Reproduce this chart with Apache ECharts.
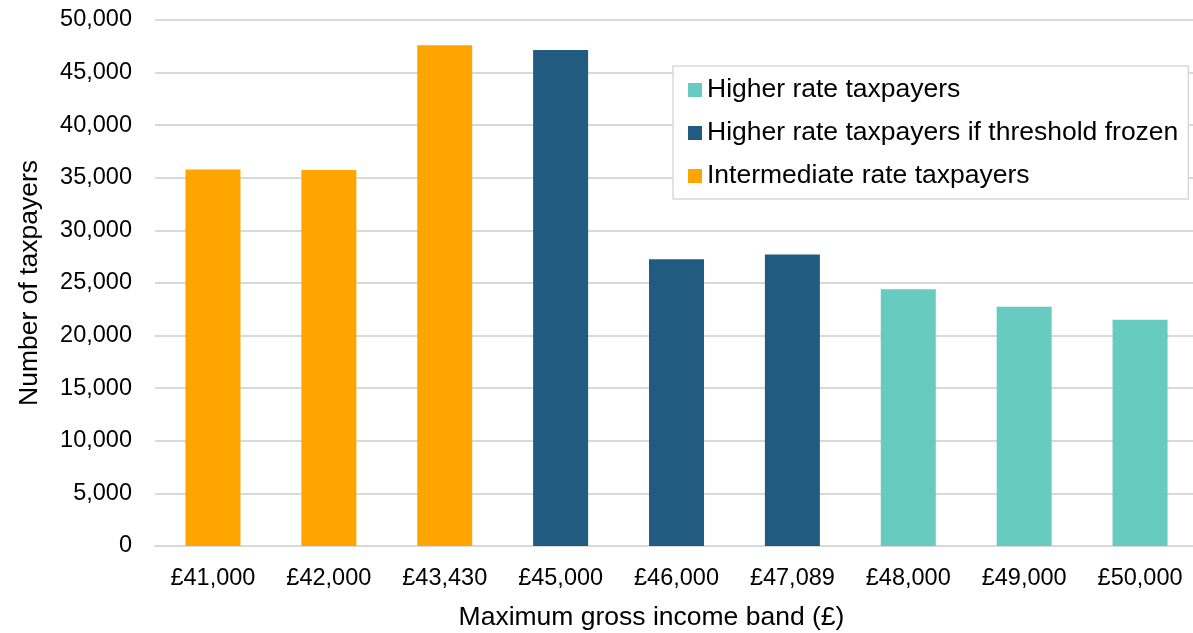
<!DOCTYPE html>
<html>
<head>
<meta charset="utf-8">
<script src="https://cdn.jsdelivr.net/npm/echarts@6/dist/echarts.min.js"></script>
<style>
  html, body { margin: 0; padding: 0; background: #fff; }
  #chart { width: 1193px; height: 633px; }
</style>
</head>
<body>
<div id="chart"></div>
<script>
// Income bands (x-axis categories)
const bands = ['£41,000', '£42,000', '£43,430', '£45,000', '£46,000', '£47,089', '£48,000', '£49,000', '£50,000'];

// Number of taxpayers per band, split by group (null where a group has no bar)
const higherRate        = [null, null, null, null, null, null, 24400, 22750, 21500];
const higherRateFrozen  = [null, null, null, 47150, 27250, 27700, null, null, null];
const intermediateRate  = [35800, 35750, 47600, null, null, null, null, null, null];

// Series names as shown in the legend
const seriesNames = ['Higher rate taxpayers', 'Higher rate taxpayers if threshold frozen', 'Intermediate rate taxpayers'];

// Y-axis range
const yMin = 0, yMax = 50000, yStep = 5000;

const colors = ['#67cbc0', '#225b80', '#ffa500'];
const font = 'Liberation Sans, Arial, sans-serif';

const chart = echarts.init(document.getElementById('chart'), null, { renderer: 'canvas' });

const mkSeries = (name, data, color) => ({
  name: name,
  type: 'bar',
  stack: 'all',
  data: data,
  barWidth: 55,
  itemStyle: { color: color },
  emphasis: { disabled: true }
});

chart.setOption({
  animation: false,
  backgroundColor: '#fff',
  grid: { left: 155, right: -5, top: 20, bottom: 87, containLabel: false, outerBoundsMode: 'none' },
  legend: {
    orient: 'vertical',
    left: 673,
    top: 66,
    padding: [10, 10, 9, 15],
    itemGap: 15,
    itemWidth: 14,
    itemHeight: 14,
    itemTextGap: 7,
    icon: 'rect',
    backgroundColor: '#fff',
    borderColor: '#d9d9d9',
    borderWidth: 1.5,
    textStyle: { fontFamily: font, fontSize: 26.5, color: '#000', lineHeight: 28 },
    data: seriesNames
  },
  xAxis: {
    type: 'category',
    data: bands,
    name: 'Maximum gross income band (£)',
    nameLocation: 'middle',
    nameGap: 58,
    nameTextStyle: { fontFamily: font, fontSize: 26.5, color: '#000', padding: [0, 50, 0, 0] },
    axisLine: { lineStyle: { color: '#d9d9d9', width: 2 } },
    axisTick: { show: false },
    axisLabel: { fontFamily: font, fontSize: 23.5, color: '#000', margin: 21 }
  },
  yAxis: {
    type: 'value',
    min: yMin,
    max: yMax,
    interval: yStep,
    name: 'Number of taxpayers',
    nameLocation: 'middle',
    nameGap: 112,
    nameRotate: 90,
    nameTextStyle: { fontFamily: font, fontSize: 26.5, color: '#000' },
    axisLine: { show: false },
    axisTick: { show: false },
    splitLine: { lineStyle: { color: '#d9d9d9', width: 2 } },
    axisLabel: {
      fontFamily: font, fontSize: 23.5, color: '#000', margin: 23,
      formatter: v => v.toLocaleString('en-GB')
    }
  },
  series: [
    mkSeries(seriesNames[0], higherRate, colors[0]),
    mkSeries(seriesNames[1], higherRateFrozen, colors[1]),
    mkSeries(seriesNames[2], intermediateRate, colors[2])
  ]
});
</script>
</body>
</html>
